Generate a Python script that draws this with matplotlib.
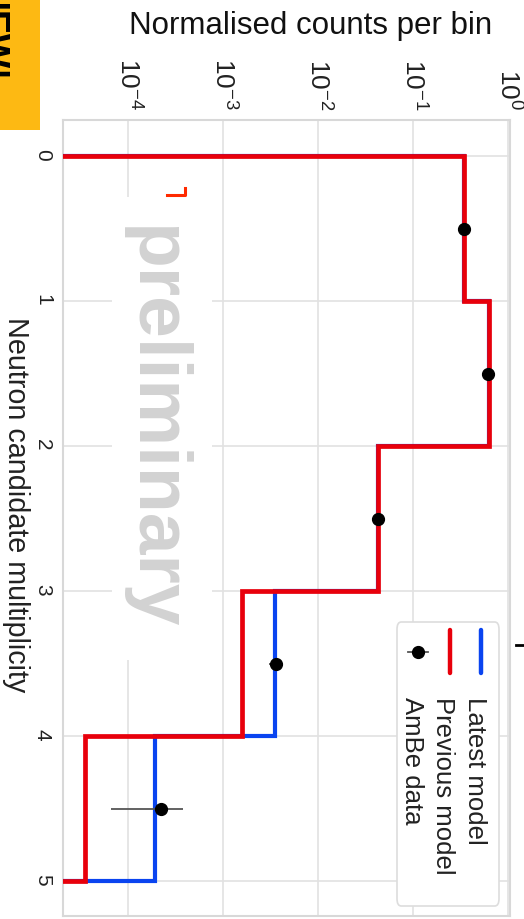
import matplotlib
matplotlib.use("Agg")
import matplotlib.pyplot as plt
from matplotlib.patches import Rectangle, FancyBboxPatch
from matplotlib.lines import Line2D
from matplotlib.ticker import NullLocator

plt.rcParams["font.family"] = ["Liberation Sans", "DejaVu Sans"]
plt.rcParams["mathtext.default"] = "regular"

# ---------------------------------------------------------------------------
# Multiplicity histograms (normalised), drawn sideways
# ---------------------------------------------------------------------------
bin_edges = [0, 1, 2, 3, 4, 5]
latest_model = [0.344, 0.631, 0.0428, 0.0035, 1.91e-4]
previous_model = [0.344, 0.631, 0.0428, 0.00157, 3.5e-5]

data_centres = [0.5, 1.5, 2.5, 3.5, 4.5]
ambe_data = [0.344, 0.61, 0.0428, 0.00355, 2.21e-4]
ambe_err = [0.006, 0.008, 0.0008, 0.00055, 1.55e-4]

count_ticks = [1e-4, 1e-3, 1e-2, 1e-1, 1e0]
mult_ticks = [0, 1, 2, 3, 4, 5]

BLUE = "#0a44f0"
RED = "#e8000b"

W, H = 524, 919
fig = plt.figure(figsize=(W / 100, H / 100), dpi=100)


def fx(x):
    return x / W


def fy(y):
    return 1 - y / H


ax = fig.add_axes([fx(63), fy(916), fx(510) - fx(63), fy(120) - fy(916)])

ax.set_xscale("log")
ax.set_xlim(2.06e-5, 1.04)
ax.set_ylim(5.24, -0.25)

ax.stairs(latest_model, bin_edges, orientation="horizontal", baseline=1e-8,
          color=BLUE, lw=3.0, zorder=3)
ax.stairs(previous_model, bin_edges, orientation="horizontal", baseline=1e-8,
          color=RED, lw=3.4, zorder=4)
ax.errorbar(ambe_data, data_centres, xerr=ambe_err, fmt="o", color="black",
            ms=8.5, ecolor="#555555", elinewidth=1.3, capsize=0, zorder=5)

# axes styling
ax.set_xticks(count_ticks)
ax.xaxis.set_minor_locator(NullLocator())
ax.set_yticks(mult_ticks)
ax.xaxis.tick_top()
ax.tick_params(axis="x", length=0, pad=7, labelsize=19, labelrotation=-90,
               colors="#222222")
ax.tick_params(axis="y", length=0, pad=8, labelsize=15, labelrotation=-90,
               colors="#222222")
ax.grid(True, color="#e2e2e2", lw=1.2)
for s in ax.spines.values():
    s.set_color("#d8d8d8")
    s.set_linewidth(1.5)

ax.xaxis.set_label_position("top")
ax.set_xlabel("Normalised counts per bin", fontsize=22.5, color="#111111",
              va="baseline")
ax.xaxis.set_label_coords((311 - 63) / 447, 1 + (120 - 34) / 796)
ax.set_ylabel("Neutron candidate multiplicity", fontsize=20.7, color="#222222",
              rotation=-90, va="center", ha="center")
ax.yaxis.set_label_coords((16 - 63) / 447, 1 - (505 - 120) / 796)

# watermark on a white patch
ax.add_patch(Rectangle((fx(112), fy(660)), fx(212) - fx(112), fy(197) - fy(660),
                       transform=fig.transFigure, facecolor="white",
                       edgecolor="none", zorder=1.8))
ax.text(fx(154), fy(427), "preliminary", transform=fig.transFigure,
        rotation=-90, ha="center", va="center", fontsize=54,
        fontweight="bold", color="#d2d2d2", zorder=1.9)

# hand-built sideways legend
ax.add_patch(FancyBboxPatch((fx(397), fy(906)), fx(499) - fx(397),
                            fy(622) - fy(906), boxstyle="round,pad=0,rounding_size=0.008",
                            transform=fig.transFigure, facecolor="white",
                            edgecolor="#dddddd", lw=1.2, zorder=6))
legend_rows = [("Latest model", BLUE, 481, 475), ("Previous model", RED, 450, 443),
               ("AmBe data", None, 418, 412)]
for label, colour, hx, tx in legend_rows:
    if colour is not None:
        fig.add_artist(Line2D([fx(hx), fx(hx)], [fy(630), fy(673)], color=colour,
                              lw=3.2, solid_capstyle="round", zorder=7))
    else:
        fig.add_artist(Line2D([fx(hx - 10), fx(hx + 10)], [fy(652), fy(652)],
                              color="#555555", lw=1.3, zorder=7))
        fig.add_artist(Line2D([fx(hx)], [fy(652)], marker="o", ms=8.5,
                              color="black", zorder=8))
    fig.text(fx(tx), fy(697), label, rotation=-90, ha="center", va="top",
             fontsize=18.5, color="#222222", zorder=8)

# slide decorations around the plot
fig.add_artist(Line2D([fx(167), fx(185), fx(185)], [fy(195), fy(195), fy(188)],
                      color="#ff2a00", lw=2.2, zorder=9))
fig.add_artist(Rectangle((0, fy(130)), fx(40), 1 - fy(130),
                         transform=fig.transFigure, facecolor="#fdb913",
                         edgecolor="none", zorder=9))
fig.text(fx(8), fy(-14), "NEW!", rotation=-90, ha="right", va="top",
         fontsize=26, fontweight="bold", color="black", zorder=10)
fig.add_artist(Line2D([fx(516), fx(524)], [fy(645), fy(645)], color="black",
                      lw=2, zorder=9))

fig.savefig("out.png", dpi=100)
